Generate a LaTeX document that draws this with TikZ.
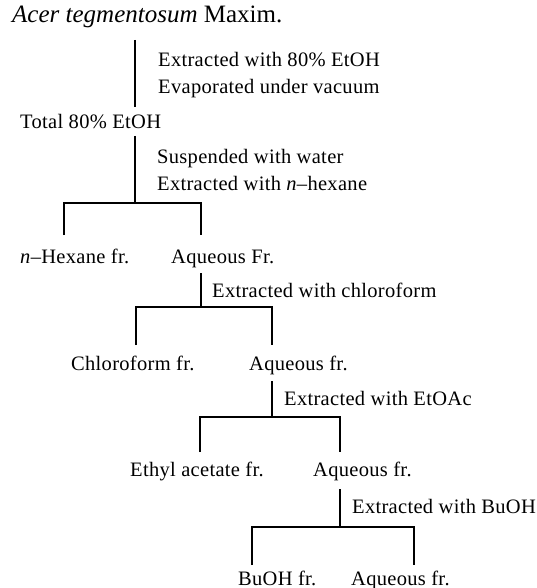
\documentclass[tikz,border=0pt]{standalone}
\usepackage{fontspec}
\setmainfont{Liberation Serif}
\newfontfamily\lblfont[LetterSpace=1.5]{Liberation Serif}
\begin{document}
\begin{tikzpicture}[x=1pt,y=-1pt,
  lbl/.style={anchor=base west,inner sep=0pt,font=\lblfont\fontsize{20.5}{24}\selectfont},
  ttl/.style={anchor=base west,inner sep=0pt,font=\fontsize{25}{28}\selectfont},
  ln/.style={line width=1.6pt}]
\useasboundingbox (0,0) rectangle (537,588);
% texts
\node[ttl] (title) at (12,23) {\textit{Acer tegmentosum} Maxim.};
\node[lbl] (s1a) at (158,67) {Extracted with 80\% EtOH};
\node[lbl] (s1b) at (158,94) {Evaporated under vacuum};
\node[lbl] (total) at (20,129) {Total 80\% EtOH};
\node[lbl] (s2a) at (157,164) {Suspended with water};
\node[lbl] (s2b) at (157,190) {Extracted with \textit{n}\textendash hexane};
\node[lbl] (hex) at (20,263) {\textit{n}\textendash Hexane fr.};
\node[lbl] (aq1) at (171,263) {Aqueous Fr.};
\node[lbl] (s3) at (212,297) {Extracted with chloroform};
\node[lbl] (chl) at (71,370) {Chloroform fr.};
\node[lbl] (aq2) at (249,370) {Aqueous fr.};
\node[lbl] (s4) at (284,405) {Extracted with EtOAc};
\node[lbl] (eth) at (130,476) {Ethyl acetate fr.};
\node[lbl] (aq3) at (313,476) {Aqueous fr.};
\node[lbl] (s5) at (352,513) {Extracted with BuOH};
\node[lbl] (bu) at (238,585) {BuOH fr.};
\node[lbl] (aq4) at (351,585) {Aqueous fr.};
% junction coordinates
\coordinate (t1) at (135,40);  \coordinate (t2) at (135,107);
\coordinate (u1) at (135,136); \coordinate (u2) at (135,203);
\coordinate (hL) at (64,235);  \coordinate (hR) at (201,235);
\coordinate (v1) at (201,273); \coordinate (v2) at (201,307);
\coordinate (cL) at (136,345); \coordinate (cR) at (272,345);
\coordinate (w1) at (272,381); \coordinate (w2) at (272,417);
\coordinate (eL) at (200,452); \coordinate (eR) at (340,452);
\coordinate (x1) at (340,489); \coordinate (x2) at (340,527);
\coordinate (bL) at (252,565); \coordinate (bR) at (414,565);
% connectors
\draw[ln] (t1) -- (t2);
\draw[ln] (u1) -- (u2);
\draw[ln] (hL) |- (u2) -| (hR);
\draw[ln] (v1) -- (v2);
\draw[ln] (cL) |- (v2) -| (cR);
\draw[ln] (w1) -- (w2);
\draw[ln] (eL) |- (w2) -| (eR);
\draw[ln] (x1) -- (x2);
\draw[ln] (bL) |- (x2) -| (bR);
\end{tikzpicture}
\end{document}
